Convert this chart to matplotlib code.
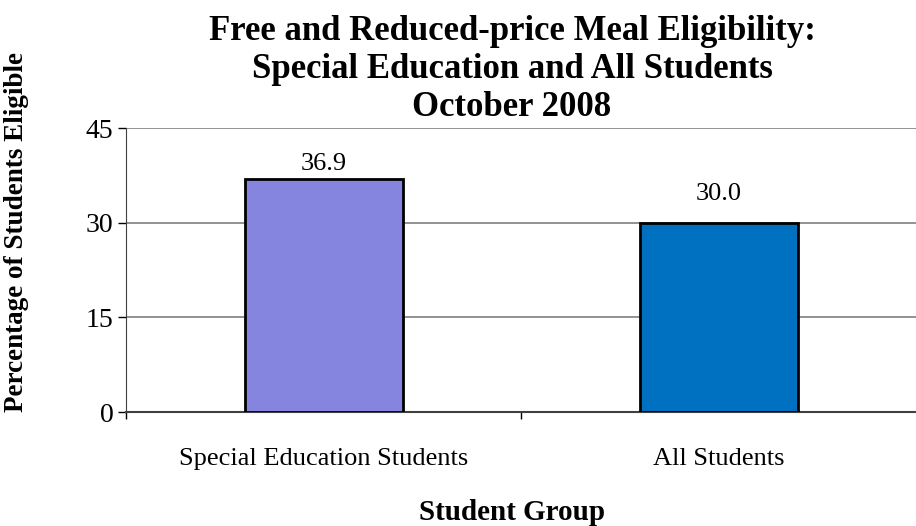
import matplotlib
matplotlib.use('Agg')
import matplotlib.pyplot as plt

# data
groups = ['Special Education Students', 'All Students']
pct_eligible = [36.9, 30.0]
bar_colors = ['#8585DF', '#0070C0']
y_ticks = [0, 15, 30, 45]
title_lines = ['Free and Reduced-price Meal Eligibility:',
               'Special Education and All Students',
               'October 2008']

plt.rcParams['font.family'] = ['Liberation Serif', 'DejaVu Serif']

fig = plt.figure(figsize=(9.16, 5.26), dpi=100)
ax = fig.add_axes([126 / 916, 1 - 412 / 526, 790 / 916, 284 / 526])

x = range(len(groups))
ax.bar(x, pct_eligible, width=0.40, color=bar_colors,
       edgecolor='black', linewidth=2, zorder=3)

# value labels above each bar (offset in points)
label_offsets = [11, 21]
for i, v in enumerate(pct_eligible):
    ax.annotate('%.1f' % v, (i, v), xytext=(0, label_offsets[i]),
                textcoords='offset points', ha='center', va='center', fontsize=19)

ax.set_xlim(-0.5, 1.5)
ax.set_ylim(0, 45)
ax.set_yticks(y_ticks)
ax.tick_params(axis='y', labelsize=20, length=6, direction='out', width=1, pad=3)
ax.yaxis.grid(True, color='#7f7f7f', linewidth=1.2, zorder=0)

# category labels sit under the bars, ticks go between categories
ax.set_xticks(list(x))
ax.set_xticklabels(groups, fontsize=19)
ax.tick_params(axis='x', length=0, pad=26)
ax.set_xticks([-0.5, 0.5], minor=True)
ax.tick_params(axis='x', which='minor', length=5, width=1, direction='out')

for s in ['top', 'right']:
    ax.spines[s].set_visible(False)
ax.spines['left'].set_color('#404040')
ax.spines['bottom'].set_color('#404040')
ax.spines['bottom'].set_linewidth(1.5)

fig.text(17 / 916, 1 - 232 / 526, 'Percentage of Students Eligible', rotation=90,
         ha='center', va='center', fontsize=19.5, fontweight='bold')
fig.text(512 / 916, 1 - 512 / 526, 'Student Group', ha='center', va='center',
         fontsize=21, fontweight='bold')

for k, line in enumerate(title_lines):
    fig.text(512 / 916, 1 - (32 + 38 * k) / 526, line, ha='center', va='center',
             fontsize=25, fontweight='bold')

fig.savefig('out.png', dpi=100)
